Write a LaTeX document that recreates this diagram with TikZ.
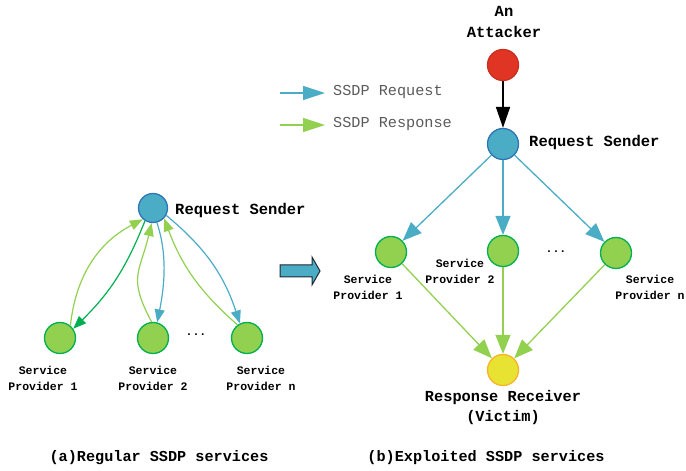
\documentclass[tikz,border=0pt]{standalone}
\usepackage{fontspec}
\setmainfont{Liberation Mono}
\usetikzlibrary{arrows.meta}
\definecolor{nblue}{RGB}{75,172,198}
\definecolor{nblueb}{RGB}{46,117,182}
\definecolor{ngreen}{RGB}{146,208,80}
\definecolor{ngreenb}{RGB}{0,176,80}
\definecolor{nred}{RGB}{224,52,36}
\definecolor{nyellow}{RGB}{232,226,50}
\definecolor{nyellowb}{RGB}{247,180,40}
\definecolor{dgreen}{RGB}{0,176,80}
\definecolor{legtext}{RGB}{90,90,90}
\definecolor{bkarrow}{RGB}{30,40,50}
\tikzset{
  dot/.style={circle,minimum size=31pt,inner sep=0pt,line width=1.3pt},
  bluenode/.style={dot,fill=nblue,draw=nblueb},
  greennode/.style={dot,fill=ngreen,draw=ngreenb},
  rednode/.style={dot,fill=nred,draw=nred!90!black},
  yellownode/.style={dot,fill=nyellow,draw=nyellowb},
  bigtxt/.style={font=\fontsize{15.5}{21}\selectfont\bfseries,inner sep=0pt,align=center},
  smalltxt/.style={font=\fontsize{11.5}{16}\selectfont\bfseries,inner sep=0pt,align=center},
  captxt/.style={font=\fontsize{15.2}{18}\selectfont\bfseries,inner sep=0pt},
  legtxt/.style={font=\fontsize{15.2}{18}\selectfont,text=legtext,inner sep=0pt,anchor=west},
  sarrow/.style={line width=1.2pt,-{Triangle[length=13pt,width=10pt]}},
  barrow/.style={line width=1.3pt,-{Triangle[length=19pt,width=15pt]}},
}
\begin{document}
\begin{tikzpicture}[x=1pt,y=1pt]
\useasboundingbox (0,0) rectangle (686,471);
% ---------- left panel ----------
\node[bluenode,minimum size=29pt] (rsA) at (153,263) {};
\node[greennode] (sA1) at (60,133) {};
\node[greennode] (sA2) at (153,133) {};
\node[greennode] (sAn) at (247,133) {};
\node[bigtxt,anchor=west] (rsAl) at (175,261) {Request Sender};
\node[smalltxt] (dotsA) at (196,136) {...};
\node[smalltxt] (lA1) at (43,93) {Service\\Provider 1};
\node[smalltxt] (lA2) at (153,93) {Service\\Provider 2};
\node[smalltxt] (lAn) at (261,93) {Service\\Provider n};

\draw[sarrow,ngreen] (sA1.50) to[bend left=28] (rsA.228);
\draw[sarrow,dgreen] (rsA.238) to[bend left=12] (sA1.35);
\draw[sarrow,ngreen] (sA2.95) .. controls +(-24,45) and +(-12,-50) .. (rsA.265);
\draw[sarrow,nblue] (rsA.285) .. controls +(10,-30) and +(8,40) .. (sA2.75);
\draw[sarrow,ngreen] (sAn.126) to[bend left=14] (rsA.317);
\draw[sarrow,nblue] (rsA.331) to[bend left=16] (sAn.116);

% block arrow
\draw[fill=nblue,draw=bkarrow,line width=1pt]
  (280,206) -- (312,206) -- (312,214) -- (320,200) -- (312,186) -- (312,194) -- (280,194) -- cycle;

% ---------- legend ----------
\coordinate (lgb1) at (280,378);
\coordinate (lgb2) at (325,378);
\coordinate (lgg1) at (280,346);
\coordinate (lgg2) at (325,346);
\draw[nblue,line width=1.3pt,-{Triangle[length=22pt,width=14pt]}] (lgb1) -- (lgb2);
\draw[ngreen,line width=1.3pt,-{Triangle[length=22pt,width=14pt]}] (lgg1) -- (lgg2);
\node[legtxt] (lgbt) at (333,379) {SSDP Request};
\node[legtxt] (lggt) at (333,347) {SSDP Response};

% ---------- right panel ----------
\node[bigtxt] (attl) at (504,449) {An\\Attacker};
\node[rednode] (att) at (503,406) {};
\node[bluenode] (rsB) at (503,327) {};
\node[bigtxt,anchor=west] (rsBl) at (529,329) {Request Sender};
\node[greennode] (sB1) at (391,219) {};
\node[greennode] (sB2) at (503,220) {};
\node[greennode] (sBn) at (616,218) {};
\node[yellownode] (vic) at (503,101) {};
\node[smalltxt] (dotsB) at (556,219) {...};
\node[smalltxt] (lB1) at (368,184) {Service\\Provider 1};
\node[smalltxt] (lB2) at (460,200) {Service\\Provider 2};
\node[smalltxt] (lBn) at (650,184) {Service\\Provider n};
\node[bigtxt,font=\fontsize{15.3}{20}\selectfont\bfseries] (vicl) at (503,63) {Response Receiver\\(Victim)};

\draw[line width=1.8pt,black,-{Triangle[length=21pt,width=14pt]}] (att) -- (rsB);
\draw[barrow,nblue] (rsB) -- (sB1);
\draw[barrow,nblue] (rsB) -- (sB2);
\draw[barrow,nblue] (rsB) -- (sBn);
\draw[barrow,ngreen] (sB1) -- (vic);
\draw[barrow,ngreen] (sB2) -- (vic);
\draw[barrow,ngreen] (sBn) -- (vic);

% captions
\node[captxt] (capa) at (159,13) {(a)Regular SSDP services};
\node[captxt] (capb) at (486,13) {(b)Exploited SSDP services};
\end{tikzpicture}
\end{document}
